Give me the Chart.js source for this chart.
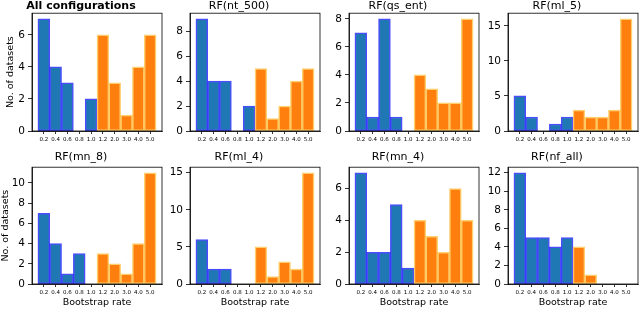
<!DOCTYPE html>
<html>
<head>
<meta charset="utf-8">
<script src="https://cdn.jsdelivr.net/npm/chart.js@4.4.0/dist/chart.umd.min.js"></script>
<style>
  body { margin: 0; background: #fff; }
  #fig { position: relative; width: 640px; height: 309px; overflow: hidden; }
  canvas { position: absolute; }
</style>
</head>
<body>
<div id="fig"></div>
<script>
// bootstrap rates (x categories)
const rates = ["0.2", "0.4", "0.6", "0.8", "1.0", "1.2", "2.0", "3.0", "4.0", "5.0"];

const panelTitles = ["All configurations", "RF(nt_500)", "RF(qs_ent)", "RF(ml_5)",
                     "RF(mn_8)", "RF(ml_4)", "RF(mn_4)", "RF(nf_all)"];

// number of datasets per bootstrap rate
const allConfigs = [7, 4, 3, 0, 2, 6, 3, 1, 4, 6];
const nt500      = [9, 4, 4, 0, 2, 5, 1, 2, 4, 5];
const qsEnt      = [7, 1, 8, 1, 0, 4, 3, 2, 2, 8];
const ml5        = [5, 2, 0, 1, 2, 3, 2, 2, 3, 16];
const mn8        = [7, 4, 1, 3, 0, 3, 2, 1, 4, 11];
const ml4        = [6, 2, 2, 0, 0, 5, 1, 3, 2, 15];
const mn4        = [7, 2, 2, 5, 1, 4, 3, 2, 6, 4];
const nfAll      = [12, 5, 5, 4, 5, 4, 1, 0, 0, 0];

const panelData = [allConfigs, nt500, qsEnt, ml5, mn8, ml4, mn4, nfAll];
const yStep = [2, 2, 2, 5, 2, 5, 2, 2];

const FONT = "'DejaVu Sans', sans-serif";
const axLefts = [32, 190, 349, 508];
const axWidth = 130;
const yW = 32;

// draw the full axes box (top/right spines)
const boxPlugin = {
  id: "box",
  afterDraw(chart) {
    const a = chart.chartArea, ctx = chart.ctx;
    ctx.save();
    ctx.strokeStyle = "#000";
    ctx.lineWidth = 0.8;
    ctx.strokeRect(a.left, a.top, a.right - a.left, a.bottom - a.top);
    ctx.restore();
  }
};

function makePanel(idx) {
  const row = Math.floor(idx / 4), col = idx % 4;
  const values = panelData[idx];
  const fig = document.getElementById("fig");
  const cv = document.createElement("canvas");

  const top = row === 0 ? 0 : 151;
  const titlePadBottom = row === 0 ? 0 : 3;
  const plotH = row === 0 ? 118 : 117;
  const xH = row === 0 ? 14 : 25;
  const h = Math.round(13.2 + titlePadBottom + plotH + xH);
  // symmetric width so the title centres over the plot area
  const w = yW + axWidth + yW;

  cv.width = w; cv.height = h;
  cv.style.left = (axLefts[col] - yW) + "px";
  cv.style.top = top + "px";
  fig.appendChild(cv);

  const maxV = Math.max(...values);

  new Chart(cv.getContext("2d"), {
    type: "bar",
    data: {
      datasets: [{
        data: values.map((v, i) => ({ x: i, y: v })),
        backgroundColor: values.map((v, i) => i < 5 ? "#1f77b4" : "#ff7f0e"),
        borderColor: values.map((v, i) => i < 5 ? "rgba(0,0,255,0.7)" : "rgba(255,180,30,0.65)"),
        borderWidth: 1.5,
        borderSkipped: false,
        barPercentage: 1,
        categoryPercentage: 1
      }]
    },
    options: {
      responsive: false,
      animation: false,
      devicePixelRatio: 1,
      layout: { padding: { left: 0, right: yW, top: 0, bottom: 0 } },
      plugins: {
        legend: { display: false },
        tooltip: { enabled: false },
        title: {
          display: true,
          text: panelTitles[idx],
          color: "#000",
          font: { family: FONT, size: 11, weight: idx === 0 ? "bold" : "normal", lineHeight: 1.2 },
          padding: { top: 0, bottom: titlePadBottom }
        }
      },
      scales: {
        x: {
          type: "linear",
          min: -1,
          max: 10,
          offset: false,
          afterFit(s) { s.height = xH; },
          afterBuildTicks(s) { s.ticks = rates.map((r, i) => ({ value: i })); },
          grid: { drawOnChartArea: false, drawTicks: true, tickLength: 3, color: "#000", lineWidth: 0.8, offset: false },
          border: { display: true, color: "#000", width: 0.8 },
          ticks: {
            autoSkip: false, maxRotation: 0, minRotation: 0, padding: 2,
            color: "#000",
            font: { family: FONT, size: 5.5 },
            callback: (v) => rates[v]
          },
          title: {
            display: row === 1,
            text: "Bootstrap rate",
            color: "#000",
            font: { family: FONT, size: 9.5, lineHeight: 1 },
            padding: { top: 0, bottom: 2 }
          }
        },
        y: {
          min: 0,
          max: maxV * 1.05,
          afterFit(s) { s.width = yW; },
          grid: { drawOnChartArea: false, drawTicks: true, tickLength: 4, color: "#000", lineWidth: 0.8 },
          border: { display: true, color: "#000", width: 0.8 },
          ticks: {
            stepSize: yStep[idx], includeBounds: false, padding: 3,
            color: "#000",
            font: { family: FONT, size: 10.5 }
          },
          title: {
            display: col === 0,
            text: "No. of datasets",
            color: "#000",
            font: { family: FONT, size: 9.5, lineHeight: 1 },
            padding: { top: row === 0 ? 6 : 1, bottom: 0 }
          }
        }
      }
    },
    plugins: [boxPlugin]
  });
}

for (let i = 0; i < 8; i++) makePanel(i);
</script>
</body>
</html>
